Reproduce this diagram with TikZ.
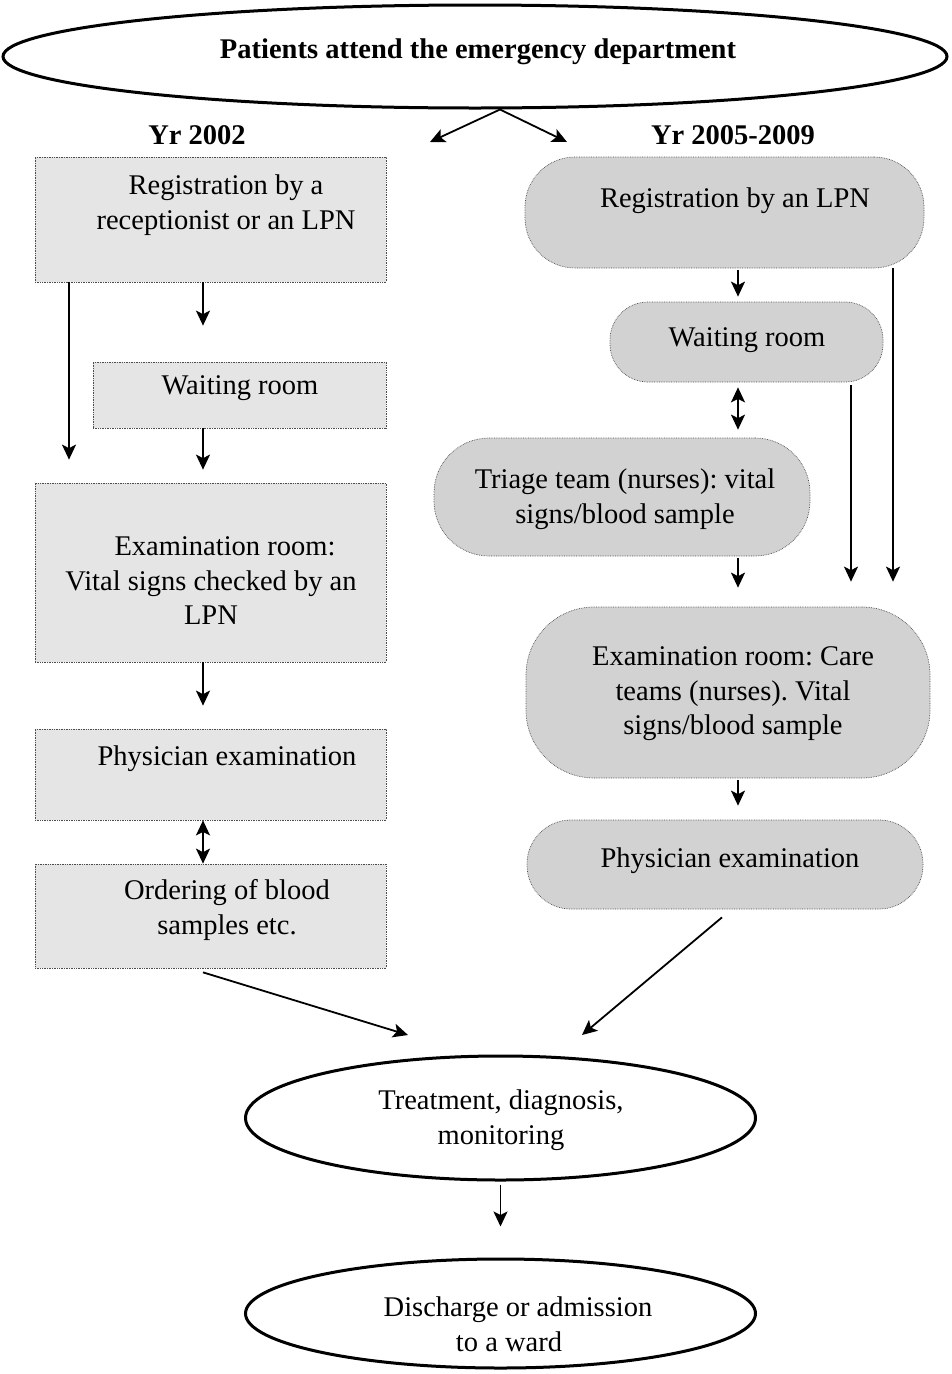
\documentclass[tikz,border=0pt]{standalone}
\usepackage{fontspec}
\setmainfont{Liberation Serif}
\usetikzlibrary{arrows.meta,shapes.geometric}
\frenchspacing
\begin{document}
\begin{tikzpicture}[x=1pt,y=-1pt,
  lbox/.style={draw=gray!60!black,densely dotted,line width=0.7pt,fill=gray!20,inner sep=0pt},
  rbox/.style={draw=gray!60!black,densely dotted,line width=0.7pt,fill=gray!35,inner sep=0pt},
  oval/.style={draw=black,ellipse,line width=3pt,fill=white,inner sep=0pt},
  txt/.style={font=\fontsize{28.5}{34.5}\selectfont,align=center,inner sep=0pt},
  btxt/.style={font=\fontsize{28.5}{34.5}\selectfont\bfseries,align=center,inner sep=0pt},
  arr/.style={line width=1.8pt,-{Stealth[length=15pt,width=14pt,inset=3.5pt]}},
  darr/.style={line width=1.8pt,{Stealth[length=15pt,width=14pt,inset=3.5pt]}-{Stealth[length=15pt,width=14pt,inset=3.5pt]}}]
\useasboundingbox (0,0) rectangle (951,1374);
% ovals
\node[oval,minimum width=944pt,minimum height=103pt] (E1) at (475,56.5) {};
\node[btxt] (tE1) at (478,52) {Patients attend the emergency department};
\node[btxt] (y1) at (197,135) {Yr 2002};
\node[btxt] (y2) at (733,135) {Yr 2005-2009};
% left column
\node[lbox,minimum width=351pt,minimum height=125pt] (L1) at (210.5,219.5) {};
\node[txt] (tL1) at (226,205) {Registration by a\\receptionist or an LPN};
\node[lbox,minimum width=293pt,minimum height=66pt] (L2) at (239.5,395) {};
\node[txt] (tL2) at (240,388) {Waiting room};
\node[lbox,minimum width=351pt,minimum height=179pt] (L3) at (210.5,572.5) {};
\node[txt] (tL3) at (211,581) {\hspace*{28pt}Examination room:\\Vital signs checked by an\\LPN};
\node[lbox,minimum width=351pt,minimum height=91pt] (L4) at (210.5,774.5) {};
\node[txt] (tL4) at (227,759) {Physician examination};
\node[lbox,minimum width=351pt,minimum height=104pt] (L5) at (210.5,916) {};
\node[txt] (tL5) at (227,910) {Ordering of blood\\samples etc.};
% right column
\node[rbox,rounded corners=50pt,minimum width=399pt,minimum height=111pt] (R1) at (724.5,212.5) {};
\node[txt] (tR1) at (735,201) {Registration by an LPN};
\node[rbox,rounded corners=38pt,minimum width=273pt,minimum height=80pt] (R2) at (746.5,342) {};
\node[txt] (tR2) at (747,340) {Waiting room};
\node[rbox,rounded corners=55pt,minimum width=376pt,minimum height=118pt] (R3) at (622,497) {};
\node[txt] (tR3) at (625,499) {Triage team (nurses): vital\\signs/blood sample};
\node[rbox,rounded corners=68pt,minimum width=404pt,minimum height=171pt] (R4) at (728,692.5) {};
\node[txt] (tR4) at (733,694) {Examination room: Care\\teams (nurses). Vital\\signs/blood sample};
\node[rbox,rounded corners=44pt,minimum width=396pt,minimum height=89pt] (R5) at (725,864.5) {};
\node[txt] (tR5) at (730,861) {Physician examination};
% bottom ovals
\node[oval,minimum width=510pt,minimum height=124pt] (E2) at (500.5,1118) {};
\node[txt] (tE2) at (501,1120) {Treatment, diagnosis,\\monitoring};
\node[oval,minimum width=510pt,minimum height=109pt] (E3) at (500.5,1313.5) {};
\node[txt] (tE3) at (509,1324) {\hspace*{18pt}Discharge or admission\\to a ward};
% helper coordinates
\coordinate (x69) at (69,0);
\coordinate (x203) at (203,0);
\coordinate (x738) at (738,0);
\coordinate (x851) at (851,0);
\coordinate (x893) at (893,0);
\coordinate (a1) at (430,142);
\coordinate (a2) at (567,142);
\coordinate (m1) at (408,1035);
\coordinate (m2) at (582,1035);
% connectors
\draw[arr] ([xshift=25pt]E1.south) -- (a1);
\draw[arr] ([xshift=25pt]E1.south) -- (a2);
\draw[arr,shorten >=36pt] (L1.south -| x203) -- (L2.north -| x203);
\draw[arr,shorten >=13pt] (L2.south -| x203) -- (L3.north -| x203);
\draw[arr,shorten >=23pt] (L1.south -| x69) -- (L3.north -| x69);
\draw[arr,shorten >=23pt] (L3.south -| x203) -- (L4.north -| x203);
\draw[darr] (L4.south -| x203) -- (L5.north -| x203);
\draw[arr] ([yshift=-4pt]L5.south -| x203) -- (m1);
\draw[arr,shorten <=2pt,shorten >=5pt] (R1.south -| x738) -- (R2.north -| x738);
\draw[darr,shorten <=5pt,shorten >=8pt] (R2.south -| x738) -- (R3.north -| x738);
\draw[arr,shorten <=2pt,shorten >=19pt] (R3.south -| x738) -- (R4.north -| x738);
\draw[arr,shorten >=25pt] (R1.south -| x893) -- (R4.north -| x893);
\draw[arr,shorten >=25pt] ([yshift=-3pt]R2.south -| x851) -- (R4.north -| x851);
\draw[arr,shorten <=2pt,shorten >=14pt] (R4.south -| x738) -- (R5.north -| x738);
\draw[arr] ([xshift=-3pt,yshift=-8pt]R5.south) -- (m2);
\draw[arr,shorten <=3pt,shorten >=31pt] (E2.south) -- (E3.north);
\end{tikzpicture}
\end{document}
